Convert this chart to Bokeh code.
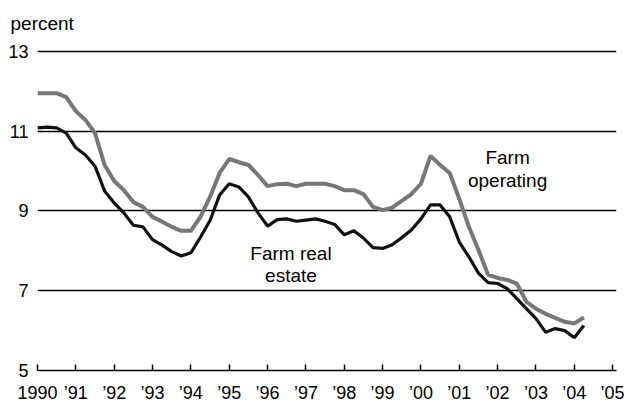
from bokeh.plotting import figure
from bokeh.models import Range1d, FixedTicker, Label, ColumnDataSource
from bokeh.embed import file_html
from bokeh.resources import INLINE

start_year = 1990
farm_operating = [11.95, 11.95, 11.95, 11.85, 11.5, 11.28, 10.95, 10.15,
                  9.75, 9.52, 9.22, 9.1, 8.85, 8.73, 8.6, 8.5,
                  8.5, 8.85, 9.35, 9.95, 10.3, 10.22, 10.15, 9.9,
                  9.62, 9.67, 9.68, 9.62, 9.68, 9.68, 9.68, 9.62,
                  9.52, 9.52, 9.42, 9.1, 9.02, 9.08, 9.25, 9.42,
                  9.68, 10.38, 10.15, 9.95, 9.3, 8.6, 8.02, 7.4,
                  7.32, 7.27, 7.18, 6.72, 6.55, 6.42, 6.32, 6.22,
                  6.18, 6.33]
farm_real_estate = [11.08, 11.1, 11.08, 10.95, 10.58, 10.4, 10.12, 9.5,
                    9.2, 8.95, 8.64, 8.6, 8.28, 8.14, 7.98, 7.87,
                    7.95, 8.34, 8.76, 9.4, 9.68, 9.6, 9.35, 8.95,
                    8.62, 8.78, 8.8, 8.74, 8.77, 8.8, 8.74, 8.66,
                    8.4, 8.5, 8.32, 8.08, 8.06, 8.15, 8.33, 8.52,
                    8.8, 9.15, 9.15, 8.85, 8.22, 7.85, 7.44, 7.2,
                    7.18, 7.05, 6.8, 6.55, 6.3, 5.96, 6.05, 6.0,
                    5.82, 6.13]
x_ticks = list(range(1990, 2006))
x_tick_labels = ["1990", "\u201991", "\u201992", "\u201993", "\u201994", "\u201995",
                 "\u201996", "\u201997", "\u201998", "\u201999", "\u201900",
                 "\u201901", "\u201902", "\u201903", "\u201904", "\u201905"]
y_ticks = [5, 7, 9, 11, 13]

quarters = [start_year + i / 4 for i in range(len(farm_operating))]
src = ColumnDataSource(dict(t=quarters, op=farm_operating, re=farm_real_estate))

FONT = "Liberation Sans"

p = figure(frame_width=579, frame_height=329, output_backend="svg", toolbar_location=None,
           x_range=Range1d(1990, 2005.1), y_range=Range1d(5, 13.245),
           min_border_left=37, min_border_right=8, min_border_top=41, min_border_bottom=10,
           title="percent")
p.outline_line_color = None
p.background_fill_color = "white"
p.border_fill_color = "white"

p.title.text_font = FONT
p.title.text_font_size = "19px"
p.title.text_font_style = "normal"
p.title.text_color = "black"
p.title.align = "left"
p.title.offset = -27
p.title.standoff = 15

p.xgrid.grid_line_color = None
p.ygrid.ticker = FixedTicker(ticks=[7, 9, 11, 13])
p.ygrid.grid_line_color = "black"
p.ygrid.grid_line_width = 1.4

p.line("t", "op", source=src, line_color="#777777", line_width=4)
p.line("t", "re", source=src, line_color="#111111", line_width=3.2)

xa = p.xaxis[0]
xa.ticker = FixedTicker(ticks=x_ticks)
xa.major_label_overrides = {t: l for t, l in zip(x_ticks, x_tick_labels)}
xa.axis_line_color = "black"
xa.axis_line_width = 1.5
xa.major_tick_in = 6
xa.major_tick_out = 0
xa.major_tick_line_width = 1.5
xa.minor_tick_line_color = None
xa.major_label_standoff = 12
xa.major_label_text_font = FONT
xa.major_label_text_font_size = "18px"
xa.major_label_text_color = "black"

ya = p.yaxis[0]
ya.ticker = FixedTicker(ticks=y_ticks)
ya.axis_line_color = None
ya.major_tick_line_color = None
ya.minor_tick_line_color = None
ya.major_tick_in = 0
ya.major_tick_out = 0
ya.major_label_standoff = 9
ya.major_label_text_font = FONT
ya.major_label_text_font_size = "18px"
ya.major_label_text_color = "black"

p.add_layout(Label(x=2002.26, y=10.34, text="Farm", text_font=FONT, text_align="center",
                   text_font_size="19px", text_color="black", text_baseline="alphabetic"))
p.add_layout(Label(x=2002.26, y=9.77, text="operating", text_font=FONT, text_align="center",
                   text_font_size="19px", text_color="black", text_baseline="alphabetic"))
p.add_layout(Label(x=1996.61, y=7.94, text="Farm real", text_font=FONT, text_align="center",
                   text_font_size="19px", text_color="black", text_baseline="alphabetic"))
p.add_layout(Label(x=1996.61, y=7.39, text="estate", text_font=FONT, text_align="center",
                   text_font_size="19px", text_color="black", text_baseline="alphabetic"))

open("out.html", "w").write(file_html(p, INLINE))
